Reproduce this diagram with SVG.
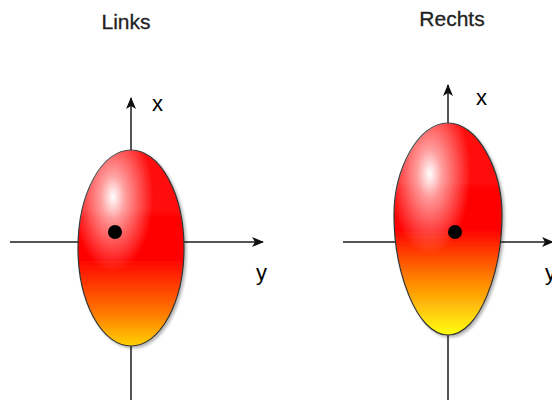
<svg xmlns="http://www.w3.org/2000/svg" width="552" height="403" viewBox="0 0 552 403">
<style>
.axis{stroke:#555;stroke-width:2;fill:none}
.title{font-family:"Liberation Sans",Arial,sans-serif;font-size:21px;fill:#222;text-anchor:middle;stroke:#222;stroke-width:0.3}
.lbl{font-family:"Liberation Sans",Arial,sans-serif;font-size:22px;fill:#000}
.body{stroke:#333;stroke-width:1.2}
</style>
<defs>
<marker id="ah" viewBox="0 0 12 10" refX="11" refY="5" markerWidth="12" markerHeight="10" markerUnits="userSpaceOnUse" orient="auto">
<path d="M0,0 L12,5 L0,10 L3,5 Z" fill="#111"/>
</marker>
<linearGradient id="gL" x1="0" y1="0" x2="0" y2="1">
<stop offset="0" stop-color="#ff1010"/>
<stop offset="0.55" stop-color="#ff0000"/>
<stop offset="0.8" stop-color="#ff6a00"/>
<stop offset="1" stop-color="#ffd000"/>
</linearGradient>
<linearGradient id="gR" x1="0" y1="0" x2="0" y2="1">
<stop offset="0" stop-color="#ff1010"/>
<stop offset="0.5" stop-color="#ff0000"/>
<stop offset="0.72" stop-color="#ff7a00"/>
<stop offset="1" stop-color="#ffff10"/>
</linearGradient>
<radialGradient id="hl" cx="0.33" cy="0.24" r="0.38">
<stop offset="0" stop-color="#fff" stop-opacity="1"/>
<stop offset="0.3" stop-color="#fff" stop-opacity="0.6"/>
<stop offset="1" stop-color="#fff" stop-opacity="0"/>
</radialGradient>
<filter id="sh" x="-20%" y="-20%" width="140%" height="140%">
<feGaussianBlur in="SourceAlpha" stdDeviation="1.5"/>
<feOffset dx="2" dy="2"/>
<feComponentTransfer><feFuncA type="linear" slope="0.3"/></feComponentTransfer>
<feMerge><feMergeNode/><feMergeNode in="SourceGraphic"/></feMerge>
</filter>
</defs>
<g id="connectors">
<line class="axis" x1="131" y1="400" x2="131" y2="98" marker-end="url(#ah)"/>
<line class="axis" x1="10" y1="242" x2="263" y2="242" marker-end="url(#ah)"/>
<line class="axis" x1="448" y1="400" x2="448" y2="85" marker-end="url(#ah)"/>
<line class="axis" x1="343" y1="242" x2="553" y2="242" marker-end="url(#ah)"/>
</g>
<g id="links">
<text class="title" x="126" y="29">Links</text>
<g filter="url(#sh)">
<ellipse class="body" cx="131" cy="248" rx="53" ry="98" fill="url(#gL)"/>
</g>
<ellipse cx="131" cy="248" rx="53" ry="98" fill="url(#hl)"/>
<circle cx="115" cy="232" r="7" fill="#000"/>
<text class="lbl" x="152" y="111">x</text>
<text class="lbl" x="256" y="280">y</text>
</g>
<g id="rechts">
<text class="title" x="452" y="26">Rechts</text>
<g filter="url(#sh)">
<path class="body" d="M448,123 C478,123 502,170 502,215 C502,270 480,335 448,335 C416,335 394,270 394,215 C394,170 418,123 448,123 Z" fill="url(#gR)"/>
</g>
<path d="M448,123 C478,123 502,170 502,215 C502,270 480,335 448,335 C416,335 394,270 394,215 C394,170 418,123 448,123 Z" fill="url(#hl)"/>
<circle cx="455" cy="232" r="7" fill="#000"/>
<text class="lbl" x="476" y="105">x</text>
<text class="lbl" x="545" y="280">y</text>
</g>
</svg>
